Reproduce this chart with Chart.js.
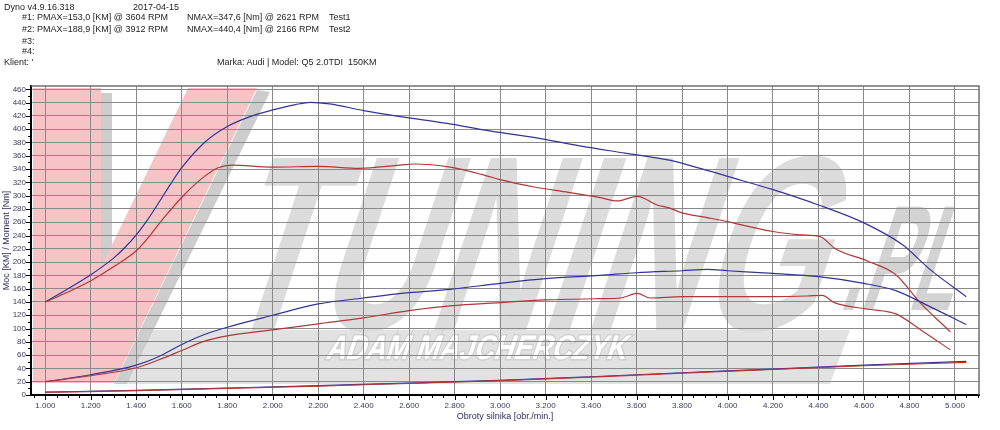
<!DOCTYPE html>
<html>
<head>
<meta charset="utf-8">
<script src="https://cdn.jsdelivr.net/npm/chart.js@4.4.1/dist/chart.umd.min.js"></script>
<style>
  body { margin: 0; background: #fff; font-family: "Liberation Sans", Arial, sans-serif; }
  #wrap { position: relative; width: 1000px; height: 430px; }
  canvas { position: absolute; left: 0; top: 0; }
  .t { position: absolute; font-size: 9px; line-height: 9px; color: #1e1e1e; white-space: pre; }
</style>
</head>
<body>
<div id="wrap">
  <canvas id="dyno" width="1000" height="430"></canvas>
  <div class="t" style="left:4px;top:3px">Dyno v4.9.16.318</div>
  <div class="t" style="left:133px;top:3px">2017-04-15</div>
  <div class="t" style="left:22px;top:13px">#1: PMAX=153,0 [KM] @ 3604 RPM</div>
  <div class="t" style="left:187px;top:13px">NMAX=347,6 [Nm] @ 2621 RPM</div>
  <div class="t" style="left:329px;top:13px">Test1</div>
  <div class="t" style="left:22px;top:25px">#2: PMAX=188,9 [KM] @ 3912 RPM</div>
  <div class="t" style="left:187px;top:25px">NMAX=440,4 [Nm] @ 2166 RPM</div>
  <div class="t" style="left:329px;top:25px">Test2</div>
  <div class="t" style="left:22px;top:37px">#3:</div>
  <div class="t" style="left:22px;top:47px">#4:</div>
  <div class="t" style="left:4px;top:58px">Klient: '</div>
  <div class="t" style="left:217px;top:58px">Marka: Audi | Model: Q5 2.0TDI  150KM</div>
</div>
<script>
// axis ticks
const X_TICKS = [1000, 1200, 1400, 1600, 1800, 2000, 2200, 2400, 2600, 2800, 3000, 3200, 3400, 3600, 3800, 4000, 4200, 4400, 4600, 4800, 5000];
const X_LABELS = ['1.000', '1.200', '1.400', '1.600', '1.800', '2.000', '2.200', '2.400', '2.600', '2.800', '3.000', '3.200', '3.400', '3.600', '3.800', '4.000', '4.200', '4.400', '4.600', '4.800', '5.000'];
const Y_TICKS = [0, 20, 40, 60, 80, 100, 120, 140, 160, 180, 200, 220, 240, 260, 280, 300, 320, 340, 360, 380, 400, 420, 440, 460];

// Test2 torque [Nm]
const T2_RPM = [1000, 1100, 1200, 1300, 1350, 1400, 1450, 1500, 1550, 1600, 1700, 1800, 1900, 2000, 2100, 2166, 2250, 2400, 2560, 2760, 2960, 3160, 3350, 3550, 3750, 3880, 4000, 4200, 4400, 4600, 4770, 4890, 5050];
const T2_NM = [140, 160, 181, 206, 222, 241, 264, 290, 317, 342, 380, 404, 419, 429, 437, 440.4, 438, 428, 419, 409, 397, 387, 375, 364, 353, 341, 329, 309, 286, 259, 226, 189, 148];

// Test1 torque [Nm]
const T1_RPM = [1000, 1100, 1200, 1300, 1400, 1460, 1520, 1610, 1700, 1760, 1820, 2000, 2200, 2380, 2560, 2621, 2780, 2930, 3000, 3150, 3300, 3440, 3515, 3604, 3690, 3740, 3800, 3910, 4000, 4100, 4200, 4320, 4410, 4470, 4620, 4740, 4850, 4980];
const T1_NM = [140, 155, 172, 193, 217, 240, 266, 301, 329, 342, 346, 343, 344, 341, 346, 347.6, 343, 331, 324, 313, 305, 297, 292, 299, 286, 282, 274, 267, 261, 253, 246, 241, 238, 221, 201, 181, 138, 95];

// Test2 power [KM]
const P2_RPM = [1000, 1200, 1400, 1500, 1600, 1700, 1800, 2000, 2200, 2400, 2600, 2780, 3000, 3200, 3440, 3600, 3800, 3912, 4000, 4200, 4400, 4600, 4740, 4890, 5050];
const P2_KM = [20, 30.5, 45, 58, 76, 91, 102, 120, 137, 146, 154, 159, 168, 175, 180, 184, 187, 188.9, 187, 183, 178, 168, 157, 133, 106];

// Test1 power [KM]
const P1_RPM = [1000, 1200, 1400, 1500, 1600, 1700, 1800, 2000, 2200, 2400, 2600, 2780, 3000, 3200, 3440, 3530, 3604, 3660, 3800, 4000, 4200, 4350, 4417, 4470, 4620, 4740, 4850, 4980];
const P1_KM = [20, 29, 41, 53, 67, 81, 89, 98, 107, 116, 127, 134, 139, 143, 145, 146, 153, 146, 148, 148, 148, 149, 150, 139, 129, 122, 98, 68];

// loss curves [KM]
const LOSS_RPM = [1000, 1400, 1800, 2200, 2600, 3000, 3400, 3800, 4200, 4600, 5050];
const LOSS1_KM = [4, 6.5, 10, 13.5, 17.5, 21.5, 27, 33, 38.5, 44, 49];
const LOSS2_KM = [4.5, 7, 10.5, 14, 18, 22, 27.5, 33.5, 39, 45, 50.5];

const BLUE = '#33339c';
const RED = '#b23838';
const FONT = 'Liberation Sans';

function pts(xs, ys) {
  return xs.map((x, i) => ({ x: x, y: ys[i] }));
}

function poly(ctx, p, color) {
  ctx.fillStyle = color;
  ctx.beginPath();
  ctx.moveTo(p[0][0], p[0][1]);
  for (let i = 1; i < p.length; i++) ctx.lineTo(p[i][0], p[i][1]);
  ctx.closePath();
  ctx.fill();
}

// skewed, squeezed text for the watermark
function logoText(ctx, text, x, y, size, width, fill, stroke) {
  ctx.save();
  ctx.font = 'bold ' + size + 'px "' + FONT + '"';
  const sx = width / ctx.measureText(text).width;
  ctx.transform(sx, 0, -0.33, 1, x, y);
  ctx.textBaseline = 'alphabetic';
  if (stroke) { ctx.strokeStyle = stroke; ctx.lineWidth = 3; ctx.strokeText(text, 0, 0); }
  ctx.fillStyle = fill;
  ctx.fillText(text, 0, 0);
  ctx.restore();
}

const logoPlugin = {
  id: 'logo',
  beforeDraw(chart) {
    const ctx = chart.ctx;
    ctx.save();
    ctx.fillStyle = '#fff';
    ctx.fillRect(0, 0, chart.width, chart.height);
    // gray banner
    poly(ctx, [[150, 330], [850, 330], [830, 384], [118, 384]], '#e2e2e2');
    // big letters
    logoText(ctx, 'TUNING', 215, 330, 250, 600, '#dcdcdc');
    logoText(ctx, '.PL', 838, 310, 150, 112, '#d3d3d3');
    // V shadows
    poly(ctx, [[101, 93], [112, 93], [112, 383], [101, 383]], '#cdcdcd');
    poly(ctx, [[257, 90], [270, 92], [127, 384], [114, 384]], '#cdcdcd');
    // pink V
    poly(ctx, [[33, 88], [101, 88], [101, 383], [33, 383]], '#f6c4c4');
    poly(ctx, [[188, 88], [257, 88], [114, 383], [45, 383]], '#f6c4c4');
    logoText(ctx, 'ADAM MAJCHERCZYK', 325, 359, 34, 300, '#ffffff', '#d0d0d0');
    ctx.restore();
  },
  afterDraw(chart) {
    const ctx = chart.ctx;
    const a = chart.chartArea;
    const xs = chart.scales.x;
    const ys = chart.scales.y;
    ctx.save();
    ctx.strokeStyle = '#6f6f6f';
    ctx.lineWidth = 1.5;
    ctx.beginPath();
    ctx.moveTo(a.left, a.top);
    ctx.lineTo(a.right, a.top);
    ctx.lineTo(a.right, a.bottom);
    ctx.stroke();
    // minor ticks
    ctx.strokeStyle = '#000';
    ctx.lineWidth = 1;
    ctx.beginPath();
    for (let v = 950; v <= 5100; v += 50) {
      const px = Math.round(xs.getPixelForValue(v)) + 0.5;
      const len = v % 200 === 0 ? 4 : 2;
      ctx.moveTo(px, a.bottom + 1);
      ctx.lineTo(px, a.bottom + 1 + len);
    }
    for (let v = 0; v <= 460; v += 10) {
      const py = Math.round(ys.getPixelForValue(v)) + 0.5;
      const len = v % 20 === 0 ? 4 : 2;
      ctx.moveTo(a.left - 1, py);
      ctx.lineTo(a.left - 1 - len, py);
    }
    ctx.stroke();
    ctx.restore();
  }
};

function line(data, color, width) {
  return {
    data: data,
    borderColor: color,
    borderWidth: width || 1.2,
    pointRadius: 0,
    fill: false,
    cubicInterpolationMode: 'monotone'
  };
}

new Chart(document.getElementById('dyno'), {
  type: 'line',
  data: {
    datasets: [
      line(pts(LOSS_RPM, LOSS1_KM), RED),
      line(pts(LOSS_RPM, LOSS2_KM), BLUE),
      line(pts(P1_RPM, P1_KM), RED),
      line(pts(P2_RPM, P2_KM), BLUE),
      line(pts(T1_RPM, T1_NM), RED),
      line(pts(T2_RPM, T2_NM), BLUE)
    ]
  },
  options: {
    responsive: false,
    animation: false,
    layout: { padding: { top: 86, right: 21, left: 0, bottom: 0 } },
    plugins: { legend: { display: false }, tooltip: { enabled: false } },
    scales: {
      x: {
        type: 'linear',
        min: 937,
        max: 5106,
        afterBuildTicks: s => { s.ticks = X_TICKS.map(v => ({ value: v })); },
        afterFit: s => { s.height = 35; },
        grid: { color: '#8a8a8a', lineWidth: 1, drawTicks: false },
        border: { color: '#000', width: 2 },
        ticks: {
          font: { family: FONT, size: 8 },
          color: '#3a3a58',
          padding: 6,
          maxRotation: 0,
          autoSkip: false,
          callback: (v, i) => X_LABELS[i]
        },
        title: {
          display: true,
          text: 'Obroty silnika [obr./min.]',
          font: { family: FONT, size: 9 },
          color: '#2e2e5e',
          padding: { top: 0, bottom: 8 }
        }
      },
      y: {
        type: 'linear',
        min: 0,
        max: 465,
        afterBuildTicks: s => { s.ticks = Y_TICKS.map(v => ({ value: v })); },
        afterFit: s => { s.width = 31; },
        grid: { color: '#8a8a8a', lineWidth: 1, drawTicks: false },
        border: { color: '#000', width: 2 },
        ticks: {
          font: { family: FONT, size: 8 },
          color: '#3a3a58',
          padding: 5,
          autoSkip: false
        },
        title: {
          display: true,
          text: 'Moc [KM] / Moment [Nm]',
          font: { family: FONT, size: 9 },
          color: '#2e2e5e',
          padding: { top: 1, bottom: 0 }
        }
      }
    }
  },
  plugins: [logoPlugin]
});
</script>
</body>
</html>
